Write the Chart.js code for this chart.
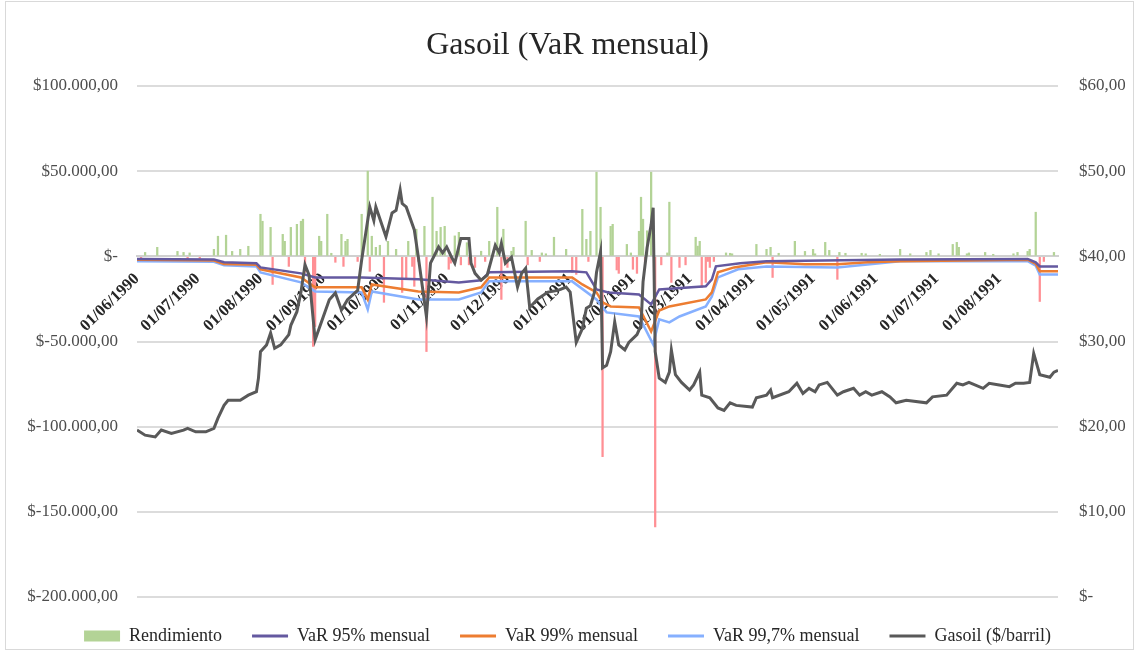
<!DOCTYPE html>
<html>
<head>
<meta charset="utf-8">
<title>Gasoil (VaR mensual)</title>
<script src="https://cdn.jsdelivr.net/npm/chart.js@4.4.1/dist/chart.umd.min.js"></script>
<style>
    html, body { margin: 0; background: #fff; }
    #wrap { position: relative; width: 1135px; height: 654px; }
    #frame { position: absolute; left: 5px; top: 1px; right: 1px; bottom: 4px; border: 1px solid #d9d9d9; pointer-events: none; }
</style>
</head>
<body>
<div id="wrap">
    <canvas id="gasoilChart" width="1135" height="654"></canvas>
    <div id="frame"></div>
</div>
<script>
// Fecha de inicio: los días de cada serie se cuentan desde aquí
var fechaInicio = '01/06/1990';
var ultimoDia = 455;

// Etiquetas del eje de fechas
var etiquetasMes = ['01/06/1990', '01/07/1990', '01/08/1990', '01/09/1990', '01/10/1990', '01/11/1990',
    '01/12/1990', '01/01/1991', '01/02/1991', '01/03/1991', '01/04/1991', '01/05/1991',
    '01/06/1991', '01/07/1991', '01/08/1991'];

// [día, $] rendimiento diario
var rendimiento = [
    [2,-2900],[4,2300],[10,5300],[20,2900],[23,2300],[25,-1500],[26,2000],[31,-1200],[38,4100],[40,11800],
    [44,12400],[47,2900],[51,4100],[55,5900],[61,24700],[62,20600],[66,17000],[67,-16500],[72,12900],[73,8800],
    [75,-5900],[76,17000],[79,18800],[81,20600],[82,21800],[83,-9400],[87,-52900],[88,-41200],[90,11800],[91,8800],
    [94,24700],[96,1800],[98,-3500],[101,12900],[102,-5900],[103,8800],[104,10000],[109,-3000],[111,24700],[114,50000],
    [115,-8800],[116,11800],[118,5300],[120,6500],[122,-27000],[124,8800],[128,4100],[131,-21200],[133,-13500],[134,8800],
    [136,-5900],[137,-17600],[138,15900],[139,-3000],[142,17600],[143,-55900],[146,34700],[148,14700],[150,17000],[152,17600],
    [154,-7600],[155,-4000],[157,12000],[159,14100],[160,-5000],[163,8000],[164,-5000],[165,-4000],[167,-6500],[170,3000],
    [172,-3000],[174,8800],[178,28800],[180,-25300],[181,15900],[183,-6500],[185,3000],[186,5300],[192,20600],[193,-5000],
    [195,3500],[199,-3000],[200,2000],[202,1500],[206,11200],[212,4100],[215,-9400],[217,-10600],[220,27600],[222,10000],
    [223,-3000],[224,14700],[227,49400],[229,28800],[230,-117600],[234,17600],[235,18800],[237,-8000],[238,-10000],[242,7000],
    [244,2000],[245,-7600],[247,-10000],[248,14700],[249,34700],[250,21800],[251,-4000],[252,15000],[254,49400],[256,-158800],
    [259,-5000],[262,2000],[263,31800],[264,-15300],[268,-6500],[271,-5000],[276,11200],[277,6000],[278,8800],[279,-18200],
    [281,-15300],[282,-3000],[283,-6500],[285,-3000],[291,2000],[293,1800],[294,1500],[306,7000],[311,4100],[313,5300],
    [314,-12400],[317,1800],[325,8800],[330,2900],[334,4100],[335,1500],[340,8200],[342,3500],[346,-13500],[347,2300],
    [350,1800],[358,1800],[360,1500],[367,1200],[377,4100],[382,1500],[390,2300],[392,3500],[396,1500],[403,7000],
    [405,8200],[406,5300],[410,1500],[411,2000],[419,2300],[423,1200],[433,1500],[435,2300],[440,2900],[441,4100],
    [444,25900],[446,-26500],[448,-3000],[453,2300]
];

// [día, $] VaR mensual
var var95 = [[0,-1500],[38,-1800],[43,-3500],[59,-4100],[61,-6500],[81,-10000],[88,-12400],[111,-12400],[139,-13500],
    [159,-15300],[170,-14100],[174,-9400],[215,-8800],[222,-9400],[227,-19400],[233,-21200],[248,-22400],[254,-28200],
    [258,-19400],[281,-17600],[284,-13500],[286,-5900],[298,-4100],[311,-2900],[377,-1800],[440,-1500],[444,-3500],
    [446,-5900],[455,-5900]];
var var99 = [[0,-2000],[38,-2500],[43,-4500],[59,-5000],[61,-7600],[81,-12400],[88,-18200],[111,-18200],[114,-25300],
    [116,-16500],[139,-20600],[159,-21200],[170,-18200],[174,-12400],[215,-12400],[220,-16500],[227,-21200],[230,-27000],
    [234,-29400],[248,-30000],[254,-44100],[258,-31800],[263,-29400],[281,-25300],[284,-21200],[287,-9400],[295,-6500],
    [311,-3500],[330,-4700],[346,-4700],[361,-3500],[377,-2900],[440,-2000],[444,-4500],[446,-8800],[455,-8800]];
var var997 = [[0,-2900],[38,-3200],[43,-5300],[59,-5900],[61,-9400],[81,-15300],[88,-20600],[111,-21200],[114,-31200],
    [116,-20600],[139,-25300],[159,-25300],[170,-21200],[174,-14700],[215,-14700],[227,-25300],[232,-32900],[248,-35300],
    [255,-51700],[258,-37000],[263,-38800],[268,-35300],[281,-29400],[284,-23500],[287,-12400],[297,-7600],[311,-5900],
    [346,-6500],[377,-2900],[440,-2900],[444,-5500],[446,-10600],[455,-10600]];

// [día, $/barril] precio del gasoil
var gasoil = [
    [0,19.6],[4,19.0],[9,18.8],[12,19.6],[17,19.2],[23,19.6],[25,19.8],[29,19.4],[34,19.4],[38,19.8],[40,21.0],
    [43,22.5],[45,23.1],[51,23.1],[55,23.7],[59,24.1],[60,25.7],[61,28.8],[64,29.6],[66,31.0],[68,29.2],[71,29.6],
    [75,30.8],[76,31.9],[79,33.5],[81,35.8],[83,39.0],[85,37.8],[88,30.2],[95,34.9],[98,35.7],[101,33.7],[104,34.9],
    [109,36.0],[111,39.6],[113,42.7],[115,45.8],[117,44.2],[118,45.8],[123,42.3],[126,45.1],[128,45.4],[130,47.8],
    [131,46.2],[133,45.8],[137,43.1],[139,39.9],[141,36.4],[143,32.9],[145,39.2],[149,41.1],[151,40.4],[153,41.1],
    [155,40.1],[157,39.2],[160,42.1],[164,42.1],[165,39.2],[167,38.0],[170,37.2],[173,37.8],[177,41.3],[179,40.4],
    [180,41.5],[182,39.2],[185,39.9],[188,36.4],[190,38.0],[192,38.6],[194,34.0],[198,35.0],[203,35.8],[208,36.0],
    [212,36.4],[214,35.8],[217,29.9],[220,31.5],[222,33.9],[224,34.2],[226,35.8],[227,38.1],[229,40.5],[230,26.9],
    [232,27.2],[234,28.8],[236,32.3],[238,29.6],[241,29.0],[243,29.9],[247,30.8],[249,31.9],[250,37.0],[252,41.0],
    [254,43.7],[255,45.7],[256,28.8],[258,25.7],[261,25.2],[263,26.4],[264,29.0],[266,26.1],[269,25.2],[273,24.3],
    [275,24.9],[278,26.4],[279,23.7],[283,23.4],[287,22.2],[290,21.9],[293,22.8],[296,22.5],[304,22.3],[306,23.4],
    [311,23.7],[313,24.3],[314,23.4],[322,24.1],[326,25.1],[329,23.9],[332,24.5],[335,24.1],[337,24.9],[341,25.2],
    [346,23.7],[349,24.1],[354,24.5],[357,23.7],[360,24.1],[363,23.7],[368,24.1],[372,23.5],[375,22.8],[380,23.1],
    [390,22.8],[393,23.5],[400,23.7],[405,25.1],[408,24.9],[411,25.2],[418,24.5],[421,25.1],[426,24.9],[431,24.7],
    [434,25.1],[438,25.1],[441,25.2],[443,28.6],[446,26.1],[451,25.8],[453,26.4],[455,26.6]
];

var serif = "'Liberation Serif', 'Times New Roman', serif";
var verde = '#b3d396';
var rojo = '#ff8f94';

function diaDe(fecha) {
    var a = fecha.split('/').map(Number);
    var b = fechaInicio.split('/').map(Number);
    return Math.round((Date.UTC(a[2], a[1] - 1, a[0]) - Date.UTC(b[2], b[1] - 1, b[0])) / 86400000);
}

function aPuntos(serie) {
    return serie.map(function(p) { return { x: p[0], y: p[1] }; });
}

function pesos(v) {
    if (v === 0) return '$-';
    var partes = Math.abs(v).toFixed(2).split('.');
    var entero = partes[0].replace(/\B(?=(\d{3})+(?!\d))/g, '.');
    return '$' + (v < 0 ? '-' : '') + entero + ',' + partes[1];
}

var etiquetaPorDia = {};
etiquetasMes.forEach(function(e) { etiquetaPorDia[diaDe(e)] = e; });

var ctx = document.getElementById('gasoilChart').getContext('2d');

var gasoilChart = new Chart(ctx, {
    type: 'bar',
    data: {
        datasets: [{
            type: 'bar',
            label: 'Rendimiento',
            data: aPuntos(rendimiento),
            backgroundColor: function(c) { return (c.raw && c.raw.y < 0) ? rojo : verde; },
            barThickness: 1.6,
            yAxisID: 'y',
            order: 4
        }, {
            type: 'line',
            label: 'VaR 95% mensual',
            data: aPuntos(var95),
            borderColor: '#6459a0',
            backgroundColor: '#6459a0',
            borderWidth: 2.5,
            pointRadius: 0,
            yAxisID: 'y',
            order: 1
        }, {
            type: 'line',
            label: 'VaR 99% mensual',
            data: aPuntos(var99),
            borderColor: '#ed7d31',
            backgroundColor: '#ed7d31',
            borderWidth: 2.5,
            pointRadius: 0,
            yAxisID: 'y',
            order: 2
        }, {
            type: 'line',
            label: 'VaR 99,7% mensual',
            data: aPuntos(var997),
            borderColor: '#86b0ff',
            backgroundColor: '#86b0ff',
            borderWidth: 2.5,
            pointRadius: 0,
            yAxisID: 'y',
            order: 3
        }, {
            type: 'line',
            label: 'Gasoil ($/barril)',
            data: aPuntos(gasoil),
            borderColor: '#595959',
            backgroundColor: '#595959',
            borderWidth: 3,
            pointRadius: 0,
            yAxisID: 'y1',
            order: 0
        }]
    },
    options: {
        responsive: false,
        animation: false,
        devicePixelRatio: 1,
        events: [],
        layout: { padding: { left: 10, right: 10, top: 0, bottom: 0 } },
        scales: {
            x: {
                type: 'linear',
                min: 0,
                max: ultimoDia,
                offset: false,
                position: { y: 0 },
                grid: { display: false, drawTicks: false },
                border: { display: true, color: '#d0d0d0', width: 2 },
                afterBuildTicks: function(axis) {
                    axis.ticks = etiquetasMes.map(function(e) { return { value: diaDe(e) }; });
                },
                ticks: {
                    autoSkip: false,
                    minRotation: 44,
                    maxRotation: 44,
                    padding: 13,
                    color: '#262626',
                    font: { family: serif, size: 16.5, weight: 'bold' },
                    callback: function(v) { return etiquetaPorDia[v]; }
                }
            },
            y: {
                position: 'left',
                min: -200000,
                max: 100000,
                ticks: {
                    stepSize: 50000,
                    padding: 19,
                    color: '#4d4d4d',
                    font: { family: serif, size: 17 },
                    callback: pesos
                },
                grid: { color: '#dcdcdc', lineWidth: 2, drawTicks: false },
                border: { display: false },
                afterFit: function(s) { s.width = 127; }
            },
            y1: {
                position: 'right',
                min: 0,
                max: 60,
                ticks: {
                    stepSize: 10,
                    padding: 21,
                    color: '#4d4d4d',
                    font: { family: serif, size: 17 },
                    callback: pesos
                },
                grid: { display: false, drawTicks: false },
                border: { display: false },
                afterFit: function(s) { s.width = 67; }
            }
        },
        plugins: {
            title: {
                display: true,
                text: 'Gasoil (VaR mensual)',
                color: '#262626',
                font: { family: serif, size: 32, weight: 'normal' },
                padding: { top: 26, bottom: 21.6 }
            },
            legend: {
                position: 'bottom',
                maxHeight: 57,
                labels: {
                    usePointStyle: true,
                    pointStyleWidth: 36,
                    boxHeight: 11,
                    padding: 30,
                    color: '#262626',
                    font: { family: serif, size: 18 },
                    sort: function(a, b) { return a.datasetIndex - b.datasetIndex; },
                    generateLabels: function(chart) {
                        var items = Chart.defaults.plugins.legend.labels.generateLabels(chart);
                        items.forEach(function(it) {
                            if (it.datasetIndex === 0) {
                                it.pointStyle = 'rect';
                                it.fillStyle = verde;
                                it.strokeStyle = verde;
                                it.lineWidth = 0;
                            } else {
                                it.pointStyle = 'line';
                                it.lineWidth = 3;
                            }
                        });
                        return items;
                    }
                }
            },
            tooltip: { enabled: false }
        }
    }
});
</script>
</body>
</html>
